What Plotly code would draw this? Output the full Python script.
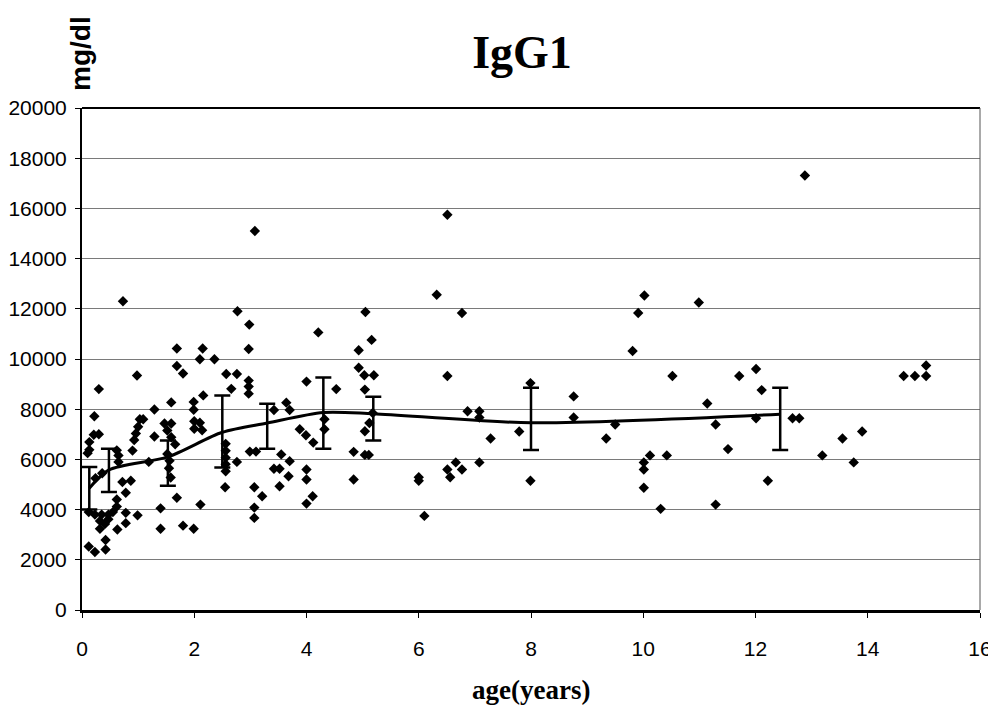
import plotly.graph_objects as go

# individual measurements: age (years) and IgG1 (mg/dl)
ages = [
    0.73, 0.30, 0.22, 0.30, 0.21, 0.13, 0.13, 0.10, 0.62, 0.65, 0.65, 0.24, 0.36,
    0.72, 0.87, 0.78, 0.62, 0.62, 0.12, 0.23, 0.35, 0.47, 0.55, 0.78, 0.32, 0.41,
    0.47, 0.32, 0.78, 0.63, 0.42, 0.12, 0.23, 0.42,
    0.98, 1.03, 1.09, 1.00, 0.96, 0.93, 0.90, 1.29, 1.29, 1.19, 0.99, 1.40, 1.40,
    1.69, 2.15, 2.10, 2.36, 1.69, 1.80, 2.16, 1.59, 1.99, 1.99, 1.47, 1.59, 1.52,
    1.59, 1.66, 2.00, 2.00, 2.10, 2.14, 1.52, 1.56, 1.55, 1.58, 1.69, 1.80, 1.99, 2.11,
    2.77, 2.98, 2.97, 2.57, 2.76, 2.66, 2.97, 2.97, 2.97, 2.56, 2.56, 2.56, 2.56, 2.56,
    2.76, 2.99, 3.10, 2.55, 3.07, 3.21, 3.07, 3.07, 3.08,
    3.42, 3.64, 3.70, 3.55, 3.70, 3.42, 3.52, 3.68, 3.52, 3.88, 3.99, 4.12, 4.00, 4.21,
    4.53, 4.32, 4.32, 4.00, 4.00, 4.11, 4.00, 4.84, 4.84, 4.93, 5.05, 5.16, 4.93, 5.03,
    5.20, 5.04, 5.18, 5.12, 5.04, 5.04, 5.11,
    6.51, 6.32, 6.77, 6.51, 6.00, 6.00, 6.10, 6.51, 6.56, 6.66, 6.77, 6.87, 7.08, 7.08,
    7.28, 7.08, 7.79, 7.99, 7.99, 8.76, 8.76,
    9.34, 9.50, 9.81, 9.91, 10.02, 10.01, 10.01, 10.01, 10.12, 10.42, 10.31, 10.52,
    10.99, 11.14, 11.29, 11.29, 11.51, 11.71, 12.01, 12.11, 12.01, 12.22, 12.66, 12.78,
    12.88, 13.19, 13.55, 13.75, 13.90, 14.64, 14.84, 15.04, 15.04,
]
igg1 = [
    12300, 8800, 7720, 7000, 6980, 6690, 6380, 6250, 6360, 6160, 5900, 5250, 5450,
    5100, 5150, 4670, 4400, 4120, 3900, 3800, 3800, 3800, 3900, 3870, 3550, 3430,
    3620, 3240, 3460, 3210, 2790, 2530, 2310, 2410,
    9340, 7600, 7600, 7300, 7030, 6770, 6350, 7990, 6910, 5900, 3770, 4050, 3240,
    10420, 10420, 9990, 9990, 9720, 9420, 8550, 8270, 8290, 7980, 7430, 7430, 7150,
    6880, 6600, 7520, 7220, 7460, 7160, 6220, 5950, 5650, 5280, 4470, 3360, 3240, 4200,
    11900, 11370, 10400, 9400, 9400, 8810, 9140, 8900, 8620, 6620, 6340, 6070, 5810, 5530,
    5900, 6310, 6310, 4890, 4890, 4530, 4080, 3670, 15100,
    7970, 8260, 7970, 6200, 5930, 5630, 5630, 5330, 4930, 7200, 6960, 6670, 9100, 11060,
    8800, 7600, 7200, 5600, 5200, 4530, 4240, 6300, 5200, 10350, 11870, 10760, 9650, 9350,
    9350, 8780, 7850, 7450, 7120, 6180, 6180,
    15750, 12560, 11830, 9320, 5290, 5150, 3750, 5600, 5290, 5880, 5600, 7920, 7920, 7670,
    6830, 5880, 7110, 9040, 5150, 8510, 7670,
    6830, 7390, 10320, 11830, 12530, 5880, 5600, 4870, 6160, 6160, 4030, 9320,
    12250, 8230, 7390, 4200, 6410, 9320, 9600, 8760, 7640, 5150, 7640, 7640,
    17310, 6160, 6830, 5880, 7110, 9320, 9320, 9320, 9740,
]

# group means with error bars
mean_age = [0.13, 0.48, 1.53, 2.50, 3.30, 4.30, 5.19, 8.00, 12.44]
mean_igg1 = [4850, 5580, 6100, 7080, 7450, 7870, 7820, 7460, 7800]
err_plus = [850, 840, 650, 1470, 770, 1395, 680, 1390, 1050]
err_minus = [850, 880, 1150, 1400, 1030, 1450, 1070, 1090, 1430]

x_ticks = [0, 2, 4, 6, 8, 10, 12, 14, 16]
y_ticks = [0, 2000, 4000, 6000, 8000, 10000, 12000, 14000, 16000, 18000, 20000]

tick_font = dict(family="Liberation Sans Narrow, Arial Narrow, Liberation Sans, Arial",
                 size=21, color="black")

# the page body adds an 8px margin; keep the page from scrolling vertically
W, H = 988, 700

fig = go.Figure()
fig.add_trace(go.Scatter(
    x=ages, y=igg1, mode="markers",
    marker=dict(symbol="diamond", size=8, color="black"),
    showlegend=False,
))
fig.add_trace(go.Scatter(
    x=mean_age, y=mean_igg1, mode="lines",
    line=dict(color="black", width=3, shape="spline", smoothing=0.8),
    error_y=dict(type="data", symmetric=False, array=err_plus, arrayminus=err_minus,
                 color="black", thickness=2.5, width=8),
    showlegend=False,
))

fig.update_layout(
    width=W, height=H,
    margin=dict(l=74, r=16, t=100, b=98, autoexpand=False),
    paper_bgcolor="white", plot_bgcolor="white",
    title=dict(text="<b>IgG1</b>", x=514 / W, xref="container", xanchor="center",
               y=1 - 44 / H, yanchor="middle",
               font=dict(family="Liberation Serif, Times New Roman, serif", size=46,
                         color="black")),
    xaxis=dict(range=[0, 16], tickvals=x_ticks, ticktext=[str(v) for v in x_ticks],
               showgrid=False, zeroline=False, automargin=False,
               showline=True, linecolor="black", linewidth=3,
               ticks="outside", ticklen=5, tickwidth=1, tickcolor="black",
               ticklabelstandoff=13, tickfont=tick_font),
    yaxis=dict(range=[0, 20000], tickvals=y_ticks, ticktext=[str(v) for v in y_ticks],
               showgrid=True, gridcolor="#7a7a7a", gridwidth=1, zeroline=False,
               automargin=False,
               showline=True, linecolor="black", linewidth=2,
               ticks="outside", ticklen=5, tickwidth=1, tickcolor="black",
               ticklabelstandoff=4, tickfont=tick_font),
    annotations=[
        dict(text="<b>age(years)</b>", xref="paper", yref="paper", x=0.5, y=(610 - 690) / 502,
             xanchor="center", yanchor="middle", showarrow=False,
             font=dict(family="Liberation Serif, Times New Roman, serif", size=27, color="black")),
        dict(text="<b>mg/dl</b>", xref="paper", yref="paper", x=-2 / 898, y=(610 - 54) / 502,
             xanchor="center", yanchor="middle", textangle=-90, showarrow=False,
             font=dict(family="Liberation Sans, Arial, sans-serif", size=28, color="black")),
    ],
    shapes=[
        dict(type="line", xref="paper", yref="paper", x0=0, x1=1, y0=1, y1=1,
             line=dict(color="black", width=2)),
        dict(type="line", xref="paper", yref="paper", x0=1, x1=1, y0=0, y1=1,
             line=dict(color="#555555", width=1)),
    ],
)

fig.write_html("out.html")
